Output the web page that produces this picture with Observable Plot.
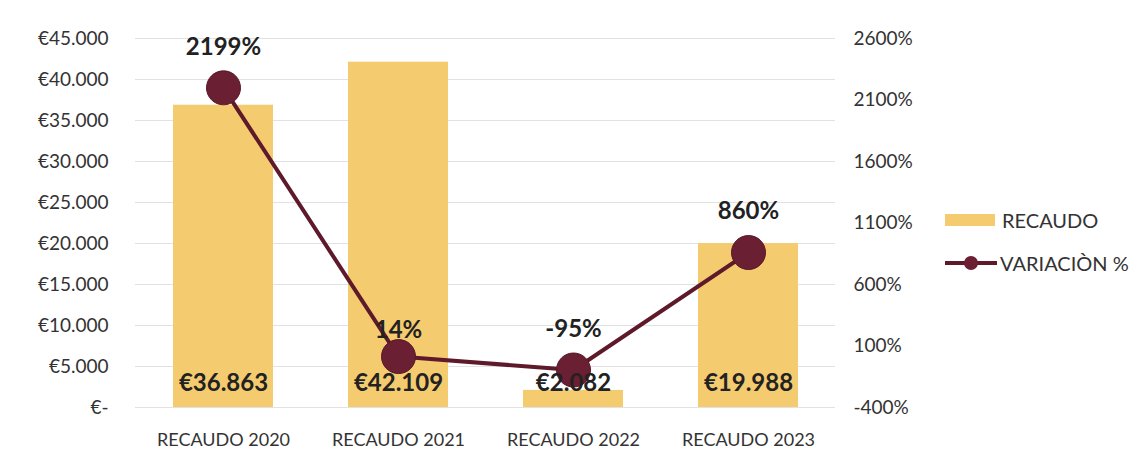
<!DOCTYPE html>
<html>
<head>
<meta charset="utf-8">
<script src="https://cdn.jsdelivr.net/npm/d3@7"></script>
<script src="https://cdn.jsdelivr.net/npm/@observablehq/plot@0.6"></script>
<style>
  html, body { margin: 0; padding: 0; background: #fff; }
  #wrap { position: relative; width: 1145px; height: 467px; font-family: Lato, "Open Sans", sans-serif; }
  #legend { position: absolute; left: 945px; top: 207px; font-size: 20px; color: #333; }
  .row { display: flex; align-items: center; height: 26px; margin-bottom: 17px; }
  .sw { width: 50px; height: 12px; background: #f5cb6f; margin-right: 7px; }
  .ln { width: 52px; height: 14px; position: relative; margin-right: 3px; }
  .ln::before { content: ""; position: absolute; left: 0; right: 0; top: 5px; height: 4px; background: #5e1a2b; }
  .ln::after { content: ""; position: absolute; left: 19px; top: 0px; width: 14px; height: 14px; border-radius: 50%; background: #6a1f33; }
</style>
</head>
<body>
<div id="wrap">
  <div id="chart"></div>
  <div id="legend">
    <div class="row"><div class="sw"></div><span>RECAUDO</span></div>
    <div class="row"><div class="ln"></div><span>VARIACIÒN %</span></div>
  </div>
</div>
<script>
const categories = ["RECAUDO 2020", "RECAUDO 2021", "RECAUDO 2022", "RECAUDO 2023"];
const recaudo = [36863, 42109, 2082, 19988];
const variacion = [2199, 14, -95, 860];
const leftTicks = [0, 5000, 10000, 15000, 20000, 25000, 30000, 35000, 40000, 45000];
const rightTicks = [-400, 100, 600, 1100, 1600, 2100, 2600];

const pctMin = -400, pctMax = 2600, yMax = 45000;
const toY = p => (p - pctMin) * yMax / (pctMax - pctMin);

const data = categories.map((c, i) => ({cat: c, rec: recaudo[i], pct: variacion[i], py: toY(variacion[i])}));

const eur = v => v === 0 ? "€-" : "€" + d3.format(",")(v).replace(/,/g, ".");

const chart = Plot.plot({
  width: 1145,
  height: 467,
  marginLeft: 135,
  marginRight: 310,
  marginTop: 38,
  marginBottom: 60,
  style: {fontFamily: "Lato, 'Open Sans', sans-serif", fontSize: "18px", color: "#333", background: "#fff"},
  x: {domain: categories, paddingInner: 0.43, paddingOuter: 0.215, label: null},
  y: {domain: [0, yMax], label: null},
  marks: [
    Plot.ruleY(leftTicks, {stroke: "#e2e2e2", strokeWidth: 1}),
    Plot.barY(data, {x: "cat", y: "rec", fill: "#f5cb6f"}),
    Plot.line(data, {x: "cat", y: "py", stroke: "#5e1a2b", strokeWidth: 4}),
    Plot.dot(data, {x: "cat", y: "py", r: 17, fill: "#6a1f33", stroke: "#5a1828", strokeWidth: 1}),
    Plot.text(data, {x: "cat", y: 0, text: d => eur(d.rec), dy: -24, fontSize: 24, fontWeight: "bold", fill: "#222"}),
    Plot.text(data.filter((d, i) => i !== 1), {x: "cat", y: "py", text: d => d.pct + "%", dy: -41, fontSize: 24, fontWeight: "bold", fill: "#222"}),
    Plot.text(data.filter((d, i) => i === 1), {x: "cat", y: "py", text: d => d.pct + "%", dy: -26, fontSize: 24, fontWeight: "bold", fill: "#222"}),
    Plot.axisY(leftTicks, {anchor: "left", tickSize: 0, tickPadding: 27, tickFormat: eur, fontSize: 19}),
    Plot.axisY(rightTicks.map(toY), {anchor: "right", tickSize: 0, tickPadding: 18, tickFormat: v => Math.round(v * (pctMax - pctMin) / yMax + pctMin) + "%", fontSize: 19}),
    Plot.axisX({tickSize: 0, tickPadding: 26, fontSize: 18})
  ]
});
document.getElementById("chart").appendChild(chart);
</script>
</body>
</html>
